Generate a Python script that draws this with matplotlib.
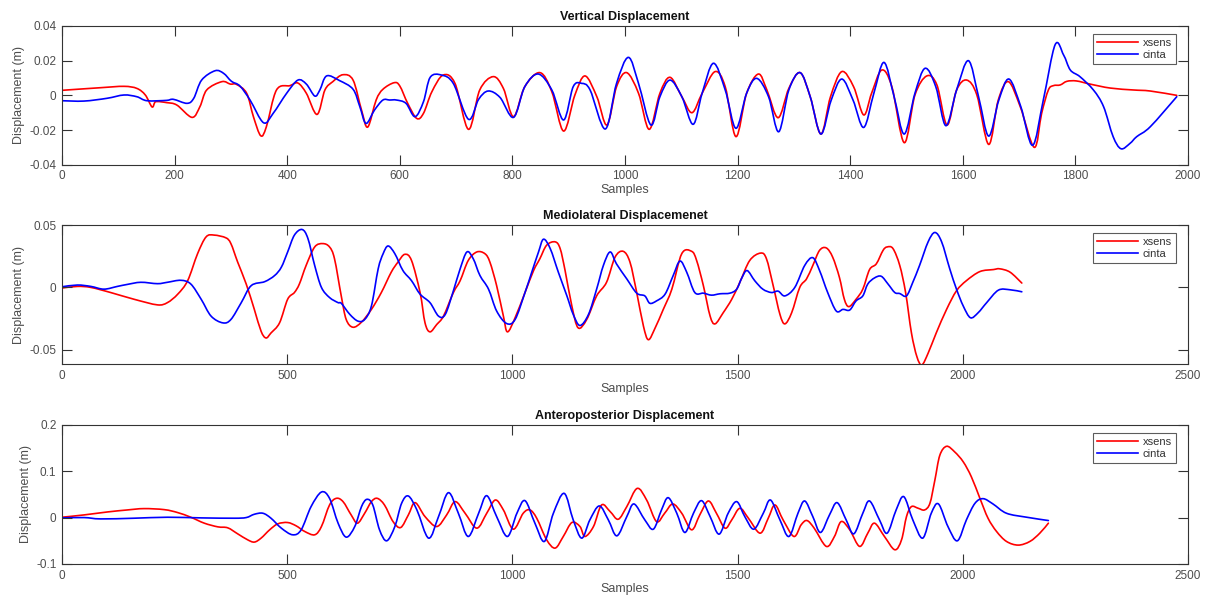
import matplotlib
matplotlib.use("Agg")
import matplotlib.pyplot as plt
import numpy as np
from matplotlib.path import Path
from matplotlib.patches import PathPatch
from matplotlib.lines import Line2D

plt.rcParams["font.family"] = ["Liberation Sans", "DejaVu Sans"]

# ---------------- Vertical displacement ----------------
vert_xsens_samples = [0, 68, 110, 133, 148, 160, 166, 186, 204, 231, 245, 257, 284, 299, 310, 328, 340, 353, 363,
                      381, 405, 419, 434, 453, 467, 481, 499, 517, 532, 543, 558, 570, 590, 600, 614, 630, 642,
                      657, 677, 698, 722, 742, 766, 784, 802, 822, 849, 870, 891, 911, 929, 950, 968, 985, 1003,
                      1024, 1043, 1062, 1080, 1101, 1119, 1137, 1160, 1178, 1197, 1216, 1237, 1252, 1272, 1291,
                      1311, 1329, 1348, 1365, 1385, 1406, 1424, 1438, 1456, 1474, 1496, 1515, 1536, 1554, 1572,
                      1589, 1607, 1625, 1646, 1663, 1681, 1702, 1727, 1740, 1752, 1761, 1773, 1785, 1802, 1826,
                      1862, 1903, 1933, 1980]
vert_xsens = [0.0029, 0.0044, 0.0052, 0.0040, 0.0002, -0.0067, -0.0037, -0.0042, -0.0056, -0.0127, -0.0065, 0.0031,
              0.0079, 0.0065, 0.0063, 0.0012, -0.0123, -0.0233, -0.0181, 0.0031, 0.0056, 0.0071, 0.0012, -0.0110,
              0.0031, 0.0079, 0.0119, 0.0088, -0.0085, -0.0183, -0.0027, 0.0035, 0.0073, 0.0054, -0.0046, -0.0133,
              -0.0104, 0.0021, 0.0117, 0.0069, -0.0196, 0.0031, 0.0108, 0.0040, -0.0123, 0.0050, 0.0131, 0.0021,
              -0.0206, 0.0002, 0.0112, -0.0008, -0.0171, 0.0050, 0.0131, 0.0012, -0.0196, 0.0012, 0.0104, -0.0008,
              -0.0100, 0.0012, 0.0137, 0.0050, -0.0238, 0.0012, 0.0123, 0.0031, -0.0129, 0.0040, 0.0131, -0.0008,
              -0.0223, -0.0008, 0.0137, 0.0050, -0.0113, 0.0012, 0.0146, 0.0050, -0.0273, 0.0002, 0.0112, 0.0060,
              -0.0171, 0.0031, 0.0088, 0.0002, -0.0283, -0.0027, 0.0079, -0.0065, -0.0300, -0.0104, 0.0031,
              0.0056, 0.0060, 0.0081, 0.0083, 0.0065, 0.0042, 0.0031, 0.0025, 0.0000]

vert_cinta_samples = [0, 39, 80, 110, 133, 151, 186, 198, 222, 234, 248, 272, 287, 301, 316, 334, 358, 375, 399,
                      419, 434, 449, 458, 470, 493, 517, 529, 540, 555, 570, 582, 594, 611, 627, 642, 654, 674,
                      695, 722, 740, 757, 778, 802, 822, 846, 870, 891, 908, 923, 938, 965, 985, 1006, 1024, 1046,
                      1062, 1080, 1101, 1121, 1137, 1157, 1178, 1197, 1216, 1234, 1255, 1273, 1291, 1311, 1329,
                      1348, 1366, 1385, 1405, 1424, 1442, 1460, 1478, 1496, 1515, 1533, 1552, 1570, 1589, 1610,
                      1628, 1646, 1664, 1682, 1703, 1724, 1743, 1764, 1779, 1791, 1808, 1832, 1850, 1867, 1881,
                      1897, 1909, 1933, 1980]
vert_cinta = [-0.0031, -0.0033, -0.0017, 0.0002, -0.0008, -0.0031, -0.0029, -0.0023, -0.0046, -0.0017, 0.0088,
              0.0142, 0.0127, 0.0081, 0.0054, -0.0027, -0.0158, -0.0104, 0.0012, 0.0088, 0.0065, -0.0004, 0.0031,
              0.0112, 0.0085, 0.0035, -0.0065, -0.0162, -0.0085, -0.0027, -0.0027, -0.0027, -0.0046, -0.0123,
              -0.0037, 0.0104, 0.0117, 0.0069, -0.0138, -0.0023, 0.0025, -0.0012, -0.0127, 0.0050, 0.0123, 0.0031,
              -0.0142, 0.0050, 0.0069, 0.0031, -0.0194, 0.0069, 0.0219, 0.0069, -0.0171, -0.0008, 0.0088, -0.0008,
              -0.0167, 0.0012, 0.0185, 0.0031, -0.0190, 0.0012, 0.0098, -0.0008, -0.0210, 0.0031, 0.0131, -0.0008,
              -0.0223, -0.0030, 0.0094, -0.0027, -0.0185, 0.0012, 0.0190, -0.0008, -0.0223, 0.0012, 0.0156, 0.0050,
              -0.0175, 0.0031, 0.0200, -0.0008, -0.0235, -0.0027, 0.0094, -0.0065, -0.0288, -0.0027, 0.0292,
              0.0233, 0.0146, 0.0108, 0.0031, -0.0065, -0.0238, -0.0308, -0.0277, -0.0238, -0.0181, -0.0008]

# ---------------- Mediolateral displacement ----------------
ml_xsens_samples = [0, 34, 64, 108, 160, 212, 234, 257, 279, 301, 320, 338, 364, 375, 390, 409, 427, 442, 453, 464,
                    483, 501, 516, 527, 542, 561, 579, 594, 605, 620, 631, 646, 665, 687, 709, 731, 746, 761, 776,
                    795, 806, 817, 832, 847, 869, 884, 902, 921, 939, 950, 965, 980, 989, 1006, 1028, 1047, 1061,
                    1076, 1095, 1106, 1117, 1132, 1146, 1165, 1187, 1209, 1228, 1246, 1261, 1276, 1291, 1302, 1317,
                    1335, 1354, 1376, 1398, 1409, 1424, 1439, 1450, 1468, 1487, 1505, 1527, 1551, 1564, 1579, 1594,
                    1605, 1620, 1638, 1653, 1667, 1682, 1697, 1711, 1726, 1737, 1747, 1763, 1778, 1793, 1808, 1823,
                    1832, 1845, 1860, 1873, 1886, 1898, 1909, 1923, 1941, 1964, 1986, 2008, 2038, 2068, 2082, 2105,
                    2131]
ml_xsens = [-0.0005, 0.0008, 0.0000, -0.0041, -0.0095, -0.0140, -0.0122, -0.0054, 0.0054, 0.0270, 0.0405, 0.0419,
            0.0397, 0.0351, 0.0203, 0.0027, -0.0176, -0.0351, -0.0405, -0.0365, -0.0284, -0.0095, -0.0041, 0.0027,
            0.0176, 0.0324, 0.0351, 0.0324, 0.0230, -0.0068, -0.0257, -0.0319, -0.0278, -0.0176, -0.0041, 0.0122,
            0.0203, 0.0265, 0.0216, -0.0041, -0.0284, -0.0356, -0.0297, -0.0230, -0.0041, 0.0054, 0.0216, 0.0284,
            0.0270, 0.0203, 0.0014, -0.0230, -0.0356, -0.0243, -0.0041, 0.0135, 0.0230, 0.0338, 0.0365, 0.0311,
            0.0135, -0.0149, -0.0324, -0.0257, -0.0068, 0.0041, 0.0243, 0.0289, 0.0203, -0.0041, -0.0311, -0.0419,
            -0.0324, -0.0176, -0.0014, 0.0270, 0.0289, 0.0216, 0.0014, -0.0230, -0.0292, -0.0203, -0.0095, 0.0041,
            0.0216, 0.0275, 0.0230, 0.0014, -0.0216, -0.0292, -0.0203, 0.0000, 0.0068, 0.0176, 0.0297, 0.0316,
            0.0243, 0.0081, -0.0095, -0.0154, -0.0095, -0.0014, 0.0143, 0.0189, 0.0297, 0.0324, 0.0311, 0.0176,
            -0.0041, -0.0365, -0.0554, -0.0621, -0.0527, -0.0365, -0.0176, -0.0027, 0.0054, 0.0127, 0.0143, 0.0149,
            0.0122, 0.0035]

ml_cinta_samples = [0, 34, 64, 93, 123, 145, 175, 212, 234, 264, 286, 309, 331, 357, 375, 398, 420, 450, 472, 487,
                    501, 516, 533, 546, 561, 576, 594, 613, 620, 639, 657, 672, 687, 702, 713, 724, 739, 757, 776,
                    795, 817, 836, 851, 869, 884, 899, 913, 928, 947, 965, 987, 1006, 1028, 1043, 1058, 1069, 1084,
                    1102, 1121, 1135, 1150, 1169, 1187, 1202, 1217, 1231, 1254, 1276, 1294, 1305, 1320, 1339, 1357,
                    1372, 1387, 1405, 1424, 1442, 1461, 1483, 1498, 1509, 1521, 1538, 1556, 1575, 1590, 1605, 1627,
                    1649, 1667, 1682, 1700, 1719, 1734, 1749, 1763, 1778, 1789, 1804, 1819, 1834, 1849, 1860, 1875,
                    1889, 1904, 1923, 1938, 1953, 1971, 1986, 2001, 2017, 2034, 2053, 2079, 2105, 2131]
ml_cinta = [0.0005, 0.0019, 0.0008, -0.0014, 0.0008, 0.0024, 0.0041, 0.0030, 0.0041, 0.0057, 0.0027, -0.0095,
            -0.0230, -0.0284, -0.0257, -0.0122, 0.0014, 0.0046, 0.0095, 0.0162, 0.0284, 0.0419, 0.0464, 0.0392,
            0.0176, 0.0000, -0.0081, -0.0122, -0.0127, -0.0216, -0.0270, -0.0257, -0.0149, 0.0149, 0.0270, 0.0332,
            0.0270, 0.0135, 0.0054, -0.0054, -0.0122, -0.0230, -0.0216, -0.0027, 0.0149, 0.0284, 0.0230, 0.0095,
            -0.0014, -0.0189, -0.0289, -0.0257, -0.0041, 0.0122, 0.0284, 0.0386, 0.0311, 0.0122, -0.0068, -0.0216,
            -0.0305, -0.0216, -0.0014, 0.0176, 0.0284, 0.0189, 0.0068, -0.0046, -0.0068, -0.0127, -0.0108, -0.0054,
            0.0095, 0.0211, 0.0122, -0.0041, -0.0046, -0.0062, -0.0051, -0.0046, -0.0014, 0.0073, 0.0135, 0.0054,
            -0.0014, -0.0041, -0.0030, -0.0068, 0.0000, 0.0176, 0.0238, 0.0135, -0.0041, -0.0189, -0.0176, -0.0181,
            -0.0108, -0.0068, 0.0027, 0.0076, 0.0089, 0.0027, -0.0041, -0.0049, -0.0068, 0.0041, 0.0176, 0.0365,
            0.0440, 0.0365, 0.0149, -0.0014, -0.0149, -0.0243, -0.0203, -0.0122, -0.0022, -0.0019, -0.0035]

# ---------------- Anteroposterior displacement ----------------
ap_xsens_samples = [0, 49, 101, 145, 182, 227, 257, 286, 316, 346, 368, 390, 412, 427, 442, 461, 479, 501, 520, 539,
                    561, 576, 594, 609, 624, 642, 656, 672, 687, 700, 716, 735, 752, 769, 784, 806, 832, 854, 873,
                    895, 921, 943, 962, 980, 1002, 1024, 1039, 1054, 1076, 1095, 1113, 1132, 1150, 1161, 1180, 1198,
                    1217, 1235, 1254, 1277, 1298, 1320, 1338, 1356, 1376, 1398, 1416, 1435, 1453, 1472, 1487, 1505,
                    1524, 1550, 1568, 1583, 1601, 1625, 1641, 1654, 1670, 1697, 1715, 1730, 1749, 1771, 1789, 1804,
                    1826, 1849, 1864, 1875, 1886, 1901, 1915, 1927, 1938, 1949, 1964, 1982, 2001, 2019, 2038, 2056,
                    2075, 2097, 2123, 2149, 2171, 2190]
ap_xsens = [0.0007, 0.0057, 0.0121, 0.0164, 0.0193, 0.0171, 0.0107, 0.0007, -0.0121, -0.0200, -0.0221, -0.0350,
            -0.0478, -0.0528, -0.0443, -0.0264, -0.0136, -0.0107, -0.0179, -0.0300, -0.0371, -0.0193, 0.0271,
            0.0414, 0.0343, 0.0057, -0.0121, 0.0093, 0.0343, 0.0414, 0.0271, -0.0086, -0.0214, 0.0057, 0.0321,
            0.0021, -0.0193, 0.0057, 0.0343, 0.0093, -0.0228, 0.0093, 0.0378, 0.0164, -0.0250, 0.0093, 0.0164,
            -0.0014, -0.0478, -0.0657, -0.0407, -0.0107, -0.0193, -0.0407, -0.0193, 0.0271, 0.0129, -0.0036,
            0.0236, 0.0628, 0.0378, -0.0086, 0.0093, 0.0293, 0.0093, -0.0264, 0.0057, 0.0357, 0.0093, -0.0228,
            -0.0050, 0.0200, -0.0014, -0.0336, -0.0014, 0.0271, -0.0050, -0.0407, -0.0157, -0.0064, -0.0228,
            -0.0621, -0.0407, -0.0086, -0.0264, -0.0621, -0.0336, -0.0121, -0.0407, -0.0693, -0.0478, 0.0021,
            0.0236, 0.0200, 0.0164, 0.0307, 0.0807, 0.1342, 0.1535, 0.1414, 0.1200, 0.0878, 0.0414, -0.0014,
            -0.0300, -0.0514, -0.0593, -0.0514, -0.0336, -0.0121]

ap_cinta_samples = [0, 49, 86, 160, 234, 309, 383, 409, 427, 446, 464, 487, 512, 531, 553, 576, 594, 613, 631, 650,
                    665, 677, 690, 705, 721, 739, 754, 769, 788, 814, 836, 858, 880, 902, 925, 943, 965, 989, 1010,
                    1028, 1050, 1071, 1091, 1115, 1135, 1154, 1172, 1193, 1213, 1232, 1254, 1270, 1294, 1313, 1331,
                    1346, 1365, 1383, 1402, 1420, 1439, 1459, 1479, 1498, 1516, 1536, 1557, 1573, 1594, 1614, 1634,
                    1649, 1667, 1684, 1704, 1721, 1741, 1758, 1778, 1793, 1815, 1832, 1852, 1869, 1889, 1911, 1930,
                    1946, 1967, 1988, 2008, 2027, 2045, 2067, 2097, 2142, 2190]
ap_cinta = [-0.0007, 0.0000, -0.0029, -0.0014, 0.0007, -0.0007, -0.0014, 0.0000, 0.0071, 0.0093, -0.0014,
            -0.0228, -0.0371, -0.0264, 0.0236, 0.0550, 0.0414, -0.0121, -0.0421, -0.0193, 0.0236, 0.0393, 0.0271,
            -0.0264, -0.0500, -0.0193, 0.0307, 0.0464, 0.0164, -0.0443, 0.0021, 0.0536, 0.0093, -0.0407, 0.0093,
            0.0471, 0.0021, -0.0407, 0.0093, 0.0364, -0.0121, -0.0514, 0.0093, 0.0521, -0.0050, -0.0443, -0.0050,
            0.0250, -0.0050, -0.0393, 0.0021, 0.0293, -0.0050, -0.0250, 0.0164, 0.0428, 0.0093, -0.0321, 0.0093,
            0.0364, 0.0021, -0.0357, 0.0093, 0.0343, 0.0021, -0.0250, 0.0093, 0.0378, -0.0050, -0.0407, 0.0093,
            0.0357, 0.0021, -0.0321, 0.0057, 0.0321, -0.0050, -0.0350, 0.0093, 0.0357, -0.0050, -0.0336, 0.0164,
            0.0450, -0.0050, -0.0443, 0.0093, 0.0293, -0.0193, -0.0500, -0.0050, 0.0307, 0.0407, 0.0293, 0.0093,
            0.0007, -0.0064]

# ---------------- axis settings ----------------
titles = ["Vertical Displacement", "Mediolateral Displacemenet", "Anteroposterior Displacement"]
series_names = ["xsens", "cinta"]
x_limits = [(0, 2000), (0, 2500), (0, 2500)]
x_ticks = [[0, 200, 400, 600, 800, 1000, 1200, 1400, 1600, 1800, 2000],
           [0, 500, 1000, 1500, 2000, 2500],
           [0, 500, 1000, 1500, 2000, 2500]]
y_limits = [(-0.04, 0.04), (-0.0616, 0.05), (-0.1, 0.2)]
y_ticks = [[-0.04, -0.02, 0, 0.02, 0.04], [-0.05, 0, 0.05], [-0.1, 0, 0.1, 0.2]]
y_tick_labels = [["-0.04", "-0.02", "0", "0.02", "0.04"], ["-0.05", "0", "0.05"], ["-0.1", "0", "0.1", "0.2"]]

panels = [
    (vert_xsens_samples, vert_xsens, vert_cinta_samples, vert_cinta),
    (ml_xsens_samples, ml_xsens, ml_cinta_samples, ml_cinta),
    (ap_xsens_samples, ap_xsens, ap_cinta_samples, ap_cinta),
]


def smooth_path(x, y):
    """Cubic Bezier path passing through every (x, y) sample (Catmull-Rom tangents)."""
    pts = np.column_stack([np.asarray(x, float), np.asarray(y, float)])
    n = len(pts)
    verts = [pts[0]]
    codes = [Path.MOVETO]
    for i in range(n - 1):
        p0 = pts[i - 1] if i > 0 else pts[i]
        p1 = pts[i]
        p2 = pts[i + 1]
        p3 = pts[i + 2] if i + 2 < n else pts[i + 1]
        seg = p2[0] - p1[0]
        t1 = (p2 - p0) / 6.0
        t2 = (p3 - p1) / 6.0
        # keep handles inside the segment so the curve never doubles back in x
        if t1[0] > 0.5 * seg:
            t1 = t1 * (0.5 * seg / t1[0])
        if t2[0] > 0.5 * seg:
            t2 = t2 * (0.5 * seg / t2[0])
        verts += [p1 + t1, p2 - t2, p2]
        codes += [Path.CURVE4] * 3
    return Path(np.array(verts), codes)


W, H = 1210, 604
fig = plt.figure(figsize=(W / 100, H / 100), dpi=100)
fig.patch.set_facecolor("white")

# axes boxes in pixels: (left, top, right, bottom)
boxes = [(62, 26, 1188, 164.7), (62, 225, 1188, 364.3), (62, 424.7, 1188, 564)]
spine_color = "#333333"
label_color = "#4d4d4d"
line_colors = [(1, 0, 0), (0, 0, 1)]
lw = 1.2

for i, (box, data) in enumerate(zip(boxes, panels)):
    l, t, r, b = box
    ax = fig.add_axes([l / W, 1 - b / H, (r - l) / W, (b - t) / H])
    xs, ys, xc, yc = data
    for (sx, sy), col in zip([(xs, ys), (xc, yc)], line_colors):
        patch = PathPatch(smooth_path(sx, sy), facecolor="none", edgecolor=col, lw=lw,
                          transform=ax.transData, capstyle="round", joinstyle="round")
        ax.add_patch(patch)
    ax.set_xlim(*x_limits[i])
    ax.set_ylim(*y_limits[i])
    ax.set_xticks(x_ticks[i])
    ax.set_xticklabels([str(v) for v in x_ticks[i]])
    ax.set_yticks(y_ticks[i])
    ax.set_yticklabels(y_tick_labels[i])
    ax.tick_params(direction="in", length=7, width=0.8, top=True, right=True,
                   labelsize=8.5, color=spine_color, labelcolor=label_color, pad=4)
    for s in ax.spines.values():
        s.set_color(spine_color)
        s.set_linewidth(0.8)
    ax.set_title(titles[i], fontsize=9, fontweight="bold", color="#111111", pad=4)
    ax.set_xlabel("Samples", fontsize=9, color=label_color, labelpad=1)
    ax.set_ylabel("Displacement (m)", fontsize=9, color=label_color, labelpad=3)
    handles = [Line2D([], [], color=c, lw=lw) for c in line_colors]
    leg = ax.legend(handles, series_names, loc="upper right",
                    bbox_to_anchor=(1 - 12 / (r - l), 1 - 8 / (b - t)),
                    borderaxespad=0, fontsize=8, frameon=True, fancybox=False,
                    handlelength=3.7, handletextpad=0.45, borderpad=0.35, labelspacing=0.2,
                    labelcolor="#333333")
    leg.get_frame().set_edgecolor("#333333")
    leg.get_frame().set_linewidth(0.8)

fig.savefig("out.png", dpi=100)
